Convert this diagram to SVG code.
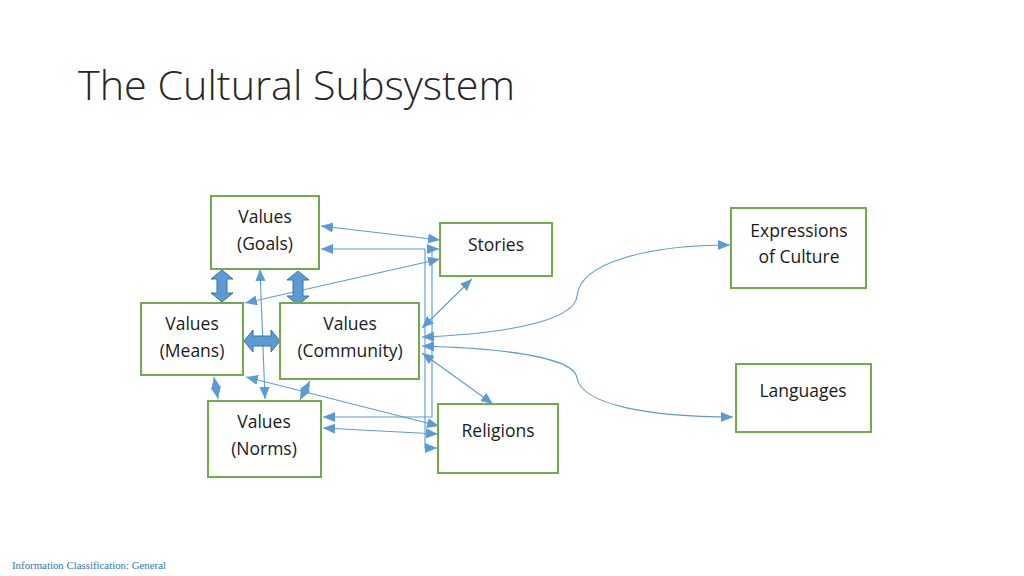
<svg xmlns="http://www.w3.org/2000/svg" width="1024" height="576" viewBox="0 0 1024 576">
<defs>
<style>
.box{fill:#fff;stroke:#70ad47;stroke-width:2}
.lbl{font-family:"Open Sans","Liberation Sans",sans-serif;font-size:17.5px;fill:#1a1a1a;text-anchor:middle}
.c{fill:none;stroke:#5b9bd5;stroke-width:1.1}
.blk{fill:#5b9bd5;stroke:#41719c;stroke-width:1}
</style>
<marker id="a" viewBox="0 0 10 10" refX="10" refY="5" markerWidth="12" markerHeight="12" markerUnits="userSpaceOnUse" orient="auto-start-reverse">
<path d="M0,0.8 L10,5 L0,9.2 z" fill="#5b9bd5"/>
</marker>
</defs>
<rect width="1024" height="576" fill="#fff"/>
<text x="78" y="100" font-family="'Open Sans','Liberation Sans',sans-serif" font-weight="300" font-size="41" fill="#262626" textLength="437" lengthAdjust="spacingAndGlyphs">The Cultural Subsystem</text>

<g id="connectors">
<path class="c" d="M321,226 L440,240" marker-start="url(#a)" marker-end="url(#a)"/>
<path class="c" d="M321,249 L425,249 L425,448 L437,448" marker-start="url(#a)" marker-end="url(#a)"/>
<path class="c" d="M439,249 L432,249 L432,417 L323,417" marker-start="url(#a)" marker-end="url(#a)"/>
<path class="c" d="M245,303 L440,259" marker-start="url(#a)" marker-end="url(#a)"/>
<path class="c" d="M260,269 L265,399" marker-start="url(#a)" marker-end="url(#a)"/>
<path class="c" d="M214,377 L218,399" marker-start="url(#a)" marker-end="url(#a)" stroke-dasharray="3,2"/>
<path class="c" d="M310,381 L300,400" marker-start="url(#a)" marker-end="url(#a)"/>
<path class="c" d="M246,377 L439,426" marker-start="url(#a)" marker-end="url(#a)"/>
<path class="c" d="M323,428 L438,434" marker-start="url(#a)" marker-end="url(#a)"/>
<path class="c" d="M422,328 L472,279" marker-start="url(#a)" marker-end="url(#a)"/>
<path class="c" d="M422,353 L493,404" marker-start="url(#a)" marker-end="url(#a)"/>
<path class="c" d="M422,337 C520,333 575,318 577,296 C580,262 650,245 730,245" marker-start="url(#a)" marker-end="url(#a)"/>
<path class="c" d="M422,346 C520,349 575,360 577,378 C582,405 650,417 733,417" marker-start="url(#a)" marker-end="url(#a)"/>
</g>

<g id="block-arrows">
<polygon class="blk" points="222,270 233,279 227,279 227,293 233,293 222,302 211,293 217,293 217,279 211,279"/>
<polygon class="blk" points="298,271 309,280 303,280 303,296 309,296 298,305 287,296 293,296 293,280 287,280"/>
<polygon class="blk" points="244,341 253,330 253,336 271,336 271,330 280,341 271,352 271,346 253,346 253,352"/>
</g>

<g id="goals"><rect class="box" x="211" y="196" width="108" height="73"/><text class="lbl" x="265" y="223">Values</text><text class="lbl" x="265" y="250">(Goals)</text></g>
<g id="stories"><rect class="box" x="440" y="223" width="112" height="53"/><text class="lbl" x="496" y="251">Stories</text></g>
<g id="means"><rect class="box" x="141" y="303" width="102" height="72"/><text class="lbl" x="192" y="330">Values</text><text class="lbl" x="192" y="357">(Means)</text></g>
<g id="community"><rect class="box" x="280" y="303" width="139" height="76"/><text class="lbl" x="350" y="330">Values</text><text class="lbl" x="350" y="357">(Community)</text></g>
<g id="norms"><rect class="box" x="208" y="401" width="113" height="76"/><text class="lbl" x="264" y="428">Values</text><text class="lbl" x="264" y="455">(Norms)</text></g>
<g id="religions"><rect class="box" x="438" y="404" width="120" height="69"/><text class="lbl" x="498" y="437">Religions</text></g>
<g id="expressions"><rect class="box" x="731" y="208" width="135" height="80"/><text class="lbl" x="799" y="237">Expressions</text><text class="lbl" x="799" y="263">of Culture</text></g>
<g id="languages"><rect class="box" x="736" y="364" width="135" height="68"/><text class="lbl" x="803" y="397">Languages</text></g>

<text x="12" y="569" font-family="'Liberation Serif',serif" font-size="10" fill="#2e75b6" textLength="154" lengthAdjust="spacingAndGlyphs">Information Classification: General</text>
</svg>
